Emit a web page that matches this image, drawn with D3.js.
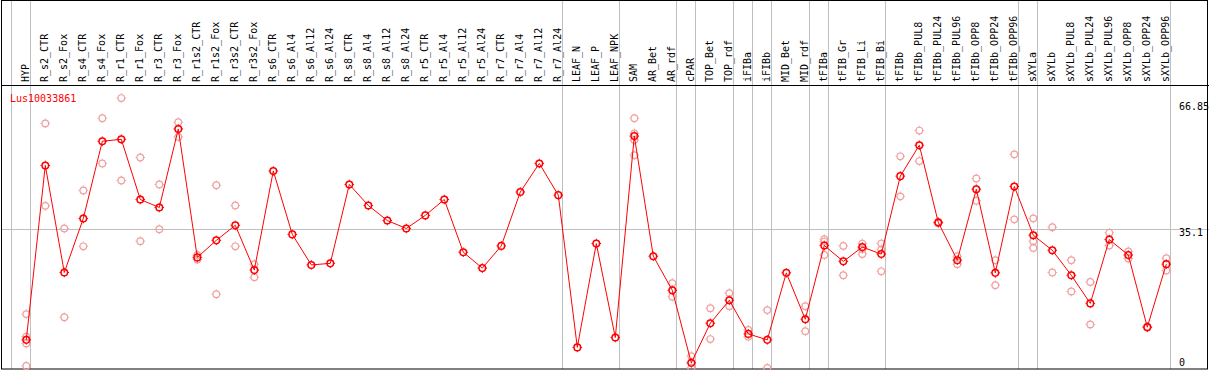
<!DOCTYPE html>
<html><head><meta charset="utf-8">
<script src="https://cdn.jsdelivr.net/npm/d3@7"></script>
<style>body{margin:0;background:#fff}svg{display:block}text{font-family:"DejaVu Sans Mono",monospace;font-size:10px}</style>
</head><body><svg id="c" width="1209" height="370"></svg>
<script>
const categories = ["HYP","R_s2_CTR","R_s2_Fox","R_s4_CTR","R_s4_Fox","R_r1_CTR","R_r1_Fox","R_r3_CTR","R_r3_Fox","R_r1s2_CTR","R_r1s2_Fox","R_r3s2_CTR","R_r3s2_Fox","R_s6_CTR","R_s6_Al4","R_s6_Al12","R_s6_Al24","R_s8_CTR","R_s8_Al4","R_s8_Al12","R_s8_Al24","R_r5_CTR","R_r5_Al4","R_r5_Al12","R_r5_Al24","R_r7_CTR","R_r7_Al4","R_r7_Al12","R_r7_Al24","LEAF_N","LEAF_P","LEAF_NPK","SAM","AR_Bet","AR_rdf","cPAR","TOP_Bet","TOP_rdf","iFIBa","iFIBb","MID_Bet","MID_rdf","tFIBa","tFIB_Gr","tFIB_Li","tFIB_Bi","tFIBb","tFIBb_PUL8","tFIBb_PUL24","tFIBb_PUL96","tFIBb_OPP8","tFIBb_OPP24","tFIBb_OPP96","sXYLa","sXYLb","sXYLb_PUL8","sXYLb_PUL24","sXYLb_PUL96","sXYLb_OPP8","sXYLb_OPP24","sXYLb_OPP96"];
const means = [7.1,51.1,24.1,37.7,57.2,57.7,42.5,40.5,60.3,27.9,32.2,36.0,24.7,49.7,33.7,26.0,26.4,46.3,41.0,37.2,35.2,38.5,42.5,29.2,25.2,30.8,44.4,51.6,43.6,5.2,31.4,7.7,58.5,28.2,19.6,1.3,11.3,17.1,8.6,7.1,24.0,12.3,30.9,26.9,30.5,28.75,48.4,56.2,36.7,27.2,45.1,24.0,45.8,33.5,29.7,23.4,16.3,32.4,28.5,10.3,26.2];
const replicates = [[13.6,7.9,6.2,0.5],[61.7,40.9],[35.2,12.8],[44.8,30.7],[63.0,51.6],[68.1,47.3],[53.1,32.0],[46.3,35.0],[62.0,58.3],[28.5,27.4],[46.1,18.6],[41.0,30.7],[26.2,22.9],[],[],[],[],[],[],[],[],[],[],[],[],[],[],[],[],[],[],[],[63.0,59.2,57.5,53.7],[],[21.4,18.0],[3.0,0.0],[15.1,7.3],[18.9,15.6],[9.6,7.9],[14.6,0.0],[],[15.6,9.3],[32.5,31.9,28.5],[30.8,23.4],[31.4,28.75,30.0],[31.4,29.9,24.4],[53.4,43.3],[59.9,52.2],[36.9,36.5],[28.2,26.2],[47.8,42.2],[27.2,20.9],[53.9,37.5],[37.75,32.0,30.3],[35.5,24.1],[27.2,19.3],[21.7,11.0],[34.1,30.9],[29.4,27.6],[10.4,10.2],[27.7,24.6]];
const groupStarts = ["HYP","R_s2_CTR","LEAF_N","SAM","cPAR","TOP_Bet","iFIBa","iFIBb","MID_Bet","tFIBa","tFIB_Gr","tFIBb","sXYLa","sXYLb"];
const yTicks = [0,35.1,66.85];
const geneName = "Lus10033861";

const svg = d3.select("#c");
const W = 1209, H = 370;
const x = d3.scaleBand().domain(categories).range([10.7, 10.7 + 19*categories.length]).padding(0);
const px = c => x(c) + 15.6;
const y = d3.scaleLinear().domain([0, 66.85]).range([368, 103]);

// gray grid
svg.append("line").attr("x1",1).attr("x2",W).attr("y1",Math.round(y(35.1))+0.5).attr("y2",Math.round(y(35.1))+0.5).attr("stroke","#c0c0c0");
groupStarts.forEach(g=>{
  const gx = Math.round(x(g))+0.5;
  svg.append("line").attr("x1",gx).attr("x2",gx).attr("y1",0).attr("y2",369).attr("stroke","#c0c0c0");
});
const endX = Math.round(x.range()[1])+0.5;
svg.append("line").attr("x1",endX).attr("x2",endX).attr("y1",0).attr("y2",369).attr("stroke","#c0c0c0");

// frame
svg.append("rect").attr("x",1.5).attr("y",0.5).attr("width",W-3).attr("height",368.5).attr("fill","none").attr("stroke","#000");
svg.append("line").attr("x1",1).attr("x2",W).attr("y1",85.5).attr("y2",85.5).attr("stroke","#000");

// header labels
svg.append("g").selectAll("text").data(categories).join("text")
  .attr("transform",c=>`translate(${px(c)-1},82) rotate(-90)`)
  .attr("text-anchor","start").attr("dominant-baseline","central").attr("fill","#000").text(c=>c);

// right axis labels
svg.append("g").selectAll("text").data(yTicks).join("text")
  .attr("x",1179).attr("y",v=>Math.min(y(v),359)).attr("dominant-baseline","hanging").attr("fill","#000")
  .text(v=>String(v));

svg.append("text").attr("x",10).attr("y",102).attr("fill","#ff0000").text(geneName);

function marker(g, cx, cy, color, sw){
  g.append("circle").attr("cx",cx).attr("cy",cy).attr("r",3.3).attr("fill","none").attr("stroke",color).attr("stroke-width",sw);
  [[0,-1],[0,1],[-1,0],[1,0]].forEach(([dx,dy])=>{
    g.append("line").attr("x1",cx+dx*3.5).attr("y1",cy+dy*3.5).attr("x2",cx+dx*4.8).attr("y2",cy+dy*4.8).attr("stroke",color).attr("stroke-width",1);
  });
}

// replicates
const rg = svg.append("g");
categories.forEach((c,i)=>replicates[i].forEach(v=>marker(rg, px(c), y(v), "#f0a0a0", 1.2)));

// mean line
svg.append("path").datum(means).attr("fill","none").attr("stroke","#ff0000").attr("stroke-width",1)
  .attr("d", d3.line().x((d,i)=>px(categories[i])).y(d=>y(d)));
const mg = svg.append("g");
means.forEach((v,i)=>marker(mg, px(categories[i]), y(v), "#ff0000", 1.5));
</script></body></html>
